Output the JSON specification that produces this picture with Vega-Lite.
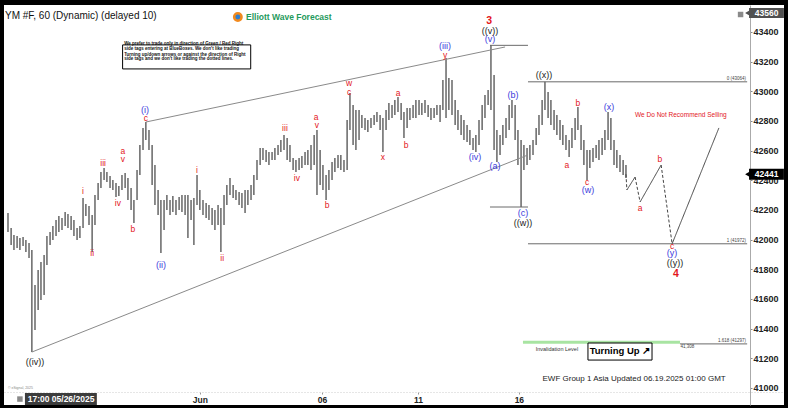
{
  "$schema": "https://vega.github.io/schema/vega-lite/v6.json",
  "width": 780,
  "height": 400,
  "autosize": {"type": "none"},
  "padding": {"left": 4, "top": 5, "right": 4, "bottom": 3},
  "background": "#000000",
  "config": {"font": "Liberation Sans", "view": {"fill": "#ffffff", "stroke": null}},
  "datasets": {
    "bars": [
      {"t":0.00,"p":42051,"p2":42179},{"t":0.10,"p":41964,"p2":42078},{"t":0.19,"p":41930,"p2":42031},{"t":0.29,"p":41943,"p2":42024},
      {"t":0.38,"p":41930,"p2":42011},{"t":0.48,"p":41957,"p2":42018},{"t":0.57,"p":41916,"p2":41997},{"t":0.67,"p":41876,"p2":41977},
      {"t":0.76,"p":41242,"p2":41930},{"t":0.86,"p":41390,"p2":41694},{"t":0.96,"p":41525,"p2":41795},{"t":1.05,"p":41593,"p2":41849},
      {"t":1.15,"p":41626,"p2":41896},{"t":1.24,"p":41829,"p2":42024},{"t":1.34,"p":41964,"p2":42051},{"t":1.43,"p":41997,"p2":42092},
      {"t":1.53,"p":42024,"p2":42132},{"t":1.62,"p":42051,"p2":42159},{"t":1.72,"p":42065,"p2":42146},{"t":1.82,"p":42092,"p2":42186},
      {"t":1.91,"p":42078,"p2":42173},{"t":2.01,"p":42065,"p2":42159},{"t":2.10,"p":42024,"p2":42132},{"t":2.20,"p":41997,"p2":42078},
      {"t":2.29,"p":42011,"p2":42092},{"t":2.39,"p":42078,"p2":42280},{"t":2.48,"p":42159,"p2":42240},{"t":2.58,"p":42098,"p2":42227},
      {"t":2.68,"p":41916,"p2":42166},{"t":2.77,"p":42098,"p2":42301},{"t":2.87,"p":42267,"p2":42382},{"t":2.96,"p":42348,"p2":42456},
      {"t":3.06,"p":42402,"p2":42483},{"t":3.15,"p":42388,"p2":42456},{"t":3.25,"p":42348,"p2":42429},{"t":3.34,"p":42334,"p2":42402},
      {"t":3.44,"p":42287,"p2":42382},{"t":3.53,"p":42294,"p2":42361},{"t":3.63,"p":42334,"p2":42436},{"t":3.73,"p":42348,"p2":42449},
      {"t":3.82,"p":42267,"p2":42415},{"t":3.92,"p":42200,"p2":42348},{"t":4.01,"p":42112,"p2":42267},{"t":4.11,"p":42267,"p2":42469},
      {"t":4.20,"p":42436,"p2":42638},{"t":4.30,"p":42605,"p2":42753},{"t":4.39,"p":42672,"p2":42793},{"t":4.49,"p":42605,"p2":42739},
      {"t":4.59,"p":42368,"p2":42638},{"t":4.68,"p":42233,"p2":42503},{"t":4.78,"p":42166,"p2":42334},{"t":4.87,"p":41910,"p2":42267},
      {"t":4.97,"p":42065,"p2":42267},{"t":5.06,"p":42200,"p2":42301},{"t":5.16,"p":42166,"p2":42267},{"t":5.25,"p":42186,"p2":42294},
      {"t":5.35,"p":42166,"p2":42267},{"t":5.45,"p":42200,"p2":42287},{"t":5.54,"p":42186,"p2":42301},{"t":5.64,"p":42166,"p2":42301},
      {"t":5.73,"p":42011,"p2":42301},{"t":5.83,"p":42132,"p2":42267},{"t":5.92,"p":41964,"p2":42280},{"t":6.02,"p":42233,"p2":42436},
      {"t":6.11,"p":42200,"p2":42334},{"t":6.21,"p":42166,"p2":42267},{"t":6.31,"p":42146,"p2":42247},{"t":6.40,"p":42132,"p2":42233},
      {"t":6.50,"p":42098,"p2":42213},{"t":6.59,"p":42065,"p2":42200},{"t":6.69,"p":42098,"p2":42233},{"t":6.78,"p":41916,"p2":42213},
      {"t":6.88,"p":42098,"p2":42301},{"t":6.97,"p":42233,"p2":42368},{"t":7.07,"p":42301,"p2":42415},{"t":7.17,"p":42280,"p2":42368},
      {"t":7.26,"p":42267,"p2":42334},{"t":7.36,"p":42233,"p2":42321},{"t":7.45,"p":42213,"p2":42314},{"t":7.55,"p":42179,"p2":42334},
      {"t":7.64,"p":42233,"p2":42334},{"t":7.74,"p":42267,"p2":42368},{"t":7.83,"p":42301,"p2":42436},{"t":7.93,"p":42402,"p2":42537},
      {"t":8.03,"p":42503,"p2":42618},{"t":8.12,"p":42537,"p2":42618},{"t":8.22,"p":42523,"p2":42605},{"t":8.31,"p":42503,"p2":42591},
      {"t":8.41,"p":42537,"p2":42591},{"t":8.50,"p":42537,"p2":42618},{"t":8.60,"p":42571,"p2":42638},{"t":8.69,"p":42591,"p2":42672},
      {"t":8.79,"p":42605,"p2":42705},{"t":8.89,"p":42537,"p2":42685},{"t":8.98,"p":42523,"p2":42638},{"t":9.08,"p":42469,"p2":42550},
      {"t":9.17,"p":42456,"p2":42537},{"t":9.27,"p":42469,"p2":42550},{"t":9.36,"p":42483,"p2":42564},{"t":9.46,"p":42503,"p2":42591},
      {"t":9.55,"p":42503,"p2":42605},{"t":9.65,"p":42469,"p2":42638},{"t":9.75,"p":42503,"p2":42705},{"t":9.84,"p":42301,"p2":42739},
      {"t":9.94,"p":42368,"p2":42605},{"t":10.03,"p":42334,"p2":42503},{"t":10.13,"p":42267,"p2":42436},{"t":10.22,"p":42334,"p2":42469},
      {"t":10.32,"p":42402,"p2":42523},{"t":10.41,"p":42456,"p2":42550},{"t":10.51,"p":42483,"p2":42571},{"t":10.60,"p":42469,"p2":42571},
      {"t":10.70,"p":42456,"p2":42537},{"t":10.80,"p":42469,"p2":42806},{"t":10.89,"p":42739,"p2":42989},{"t":10.99,"p":42638,"p2":42907},
      {"t":11.08,"p":42605,"p2":42874},{"t":11.18,"p":42672,"p2":42874},{"t":11.27,"p":42753,"p2":42840},{"t":11.37,"p":42739,"p2":42820},
      {"t":11.46,"p":42726,"p2":42806},{"t":11.56,"p":42753,"p2":42820},{"t":11.66,"p":42773,"p2":42840},{"t":11.75,"p":42793,"p2":42861},
      {"t":11.85,"p":42739,"p2":42840},{"t":11.94,"p":42591,"p2":42820},{"t":12.04,"p":42739,"p2":42874},{"t":12.13,"p":42806,"p2":42921},
      {"t":12.23,"p":42820,"p2":42907},{"t":12.32,"p":42840,"p2":42941},{"t":12.42,"p":42861,"p2":42962},{"t":12.52,"p":42806,"p2":42921},
      {"t":12.61,"p":42685,"p2":42861},{"t":12.71,"p":42753,"p2":42887},{"t":12.80,"p":42806,"p2":42887},{"t":12.90,"p":42820,"p2":42907},
      {"t":12.99,"p":42820,"p2":42941},{"t":13.09,"p":42840,"p2":42941},{"t":13.18,"p":42840,"p2":42921},{"t":13.28,"p":42854,"p2":42941},
      {"t":13.38,"p":42827,"p2":42907},{"t":13.47,"p":42806,"p2":42887},{"t":13.57,"p":42820,"p2":42887},{"t":13.66,"p":42840,"p2":42907},
      {"t":13.76,"p":42793,"p2":42907},{"t":13.85,"p":42874,"p2":43077},{"t":13.95,"p":42820,"p2":43225},{"t":14.04,"p":42874,"p2":43090},
      {"t":14.14,"p":42840,"p2":43077},{"t":14.24,"p":42773,"p2":42941},{"t":14.33,"p":42739,"p2":42874},{"t":14.43,"p":42705,"p2":42840},
      {"t":14.52,"p":42672,"p2":42806},{"t":14.62,"p":42658,"p2":42773},{"t":14.71,"p":42638,"p2":42739},{"t":14.81,"p":42605,"p2":42685},
      {"t":14.90,"p":42591,"p2":42705},{"t":15.00,"p":42638,"p2":42806},{"t":15.10,"p":42739,"p2":42907},{"t":15.19,"p":42820,"p2":42975},
      {"t":15.29,"p":42907,"p2":43009},{"t":15.38,"p":42874,"p2":43312},{"t":15.48,"p":42605,"p2":43110},{"t":15.57,"p":42523,"p2":42739},
      {"t":15.67,"p":42571,"p2":42705},{"t":15.76,"p":42638,"p2":42773},{"t":15.86,"p":42685,"p2":42820},{"t":15.96,"p":42739,"p2":42907},
      {"t":16.05,"p":42820,"p2":42941},{"t":16.15,"p":42672,"p2":42907},{"t":16.24,"p":42503,"p2":42739},{"t":16.34,"p":42220,"p2":42672},
      {"t":16.43,"p":42469,"p2":42638},{"t":16.53,"p":42503,"p2":42618},{"t":16.62,"p":42537,"p2":42638},{"t":16.72,"p":42571,"p2":42672},
      {"t":16.82,"p":42638,"p2":42753},{"t":16.91,"p":42705,"p2":42840},{"t":17.01,"p":42773,"p2":42941},{"t":17.10,"p":42874,"p2":43064},
      {"t":17.20,"p":42820,"p2":42996},{"t":17.29,"p":42773,"p2":42941},{"t":17.39,"p":42739,"p2":42874},{"t":17.48,"p":42705,"p2":42840},
      {"t":17.58,"p":42672,"p2":42806},{"t":17.67,"p":42638,"p2":42773},{"t":17.77,"p":42605,"p2":42705},{"t":17.87,"p":42557,"p2":42672},
      {"t":17.96,"p":42618,"p2":42753},{"t":18.06,"p":42672,"p2":42820},{"t":18.15,"p":42739,"p2":42894},{"t":18.25,"p":42605,"p2":42773},
      {"t":18.34,"p":42503,"p2":42672},{"t":18.44,"p":42402,"p2":42605},{"t":18.53,"p":42483,"p2":42605},{"t":18.63,"p":42523,"p2":42618},
      {"t":18.73,"p":42550,"p2":42638},{"t":18.82,"p":42537,"p2":42672},{"t":18.92,"p":42571,"p2":42685},{"t":19.01,"p":42605,"p2":42739},
      {"t":19.11,"p":42672,"p2":42861},{"t":19.20,"p":42605,"p2":42820},{"t":19.30,"p":42503,"p2":42672},{"t":19.39,"p":42483,"p2":42605},
      {"t":19.49,"p":42456,"p2":42571},{"t":19.59,"p":42436,"p2":42537},{"t":19.68,"p":42415,"p2":42503}
    ],
    "lines": [
      {"id":"wu","g":"wedge","t":4.39,"p":42793},{"id":"wu","g":"wedge","t":15.83,"p":43299},
      {"id":"wl","g":"wedge","t":0.76,"p":41242},{"id":"wl","g":"wedge","t":16.56,"p":42571},
      {"id":"h1","g":"level","t":15.35,"p":43310},{"id":"h1","g":"level","t":16.56,"p":43310},
      {"id":"h2","g":"level","t":15.35,"p":42220},{"id":"h2","g":"level","t":16.56,"p":42220},
      {"id":"h3","g":"level","t":16.56,"p":43064},{"id":"h3","g":"level","t":23.54,"p":43064},
      {"id":"h4","g":"level","t":16.56,"p":41972},{"id":"h4","g":"level","t":23.54,"p":41972},
      {"id":"h5","g":"level","t":21.40,"p":41297},{"id":"h5","g":"level","t":23.54,"p":41297},
      {"id":"inv","g":"invalid","t":16.40,"p":41308},{"id":"inv","g":"invalid","t":21.40,"p":41308},
      {"id":"s1","g":"proj","s":"dash","t":19.68,"p":42441},{"id":"s1","g":"proj","s":"dash","t":19.71,"p":42335},
      {"id":"s2","g":"proj","s":"solid","t":19.71,"p":42335},{"id":"s2","g":"proj","s":"solid","t":19.97,"p":42422},
      {"id":"s3","g":"proj","s":"dash","t":19.97,"p":42422},{"id":"s3","g":"proj","s":"dash","t":20.13,"p":42254},
      {"id":"s4","g":"proj","s":"solid","t":20.13,"p":42254},{"id":"s4","g":"proj","s":"solid","t":20.80,"p":42503},
      {"id":"s5","g":"proj","s":"dash","t":20.80,"p":42503},{"id":"s5","g":"proj","s":"dash","t":21.15,"p":41972},
      {"id":"s6","g":"proj","s":"solid","t":21.15,"p":41972},{"id":"s6","g":"proj","s":"solid","t":22.64,"p":42753}
    ],
    "boxes": [
      {"g":"note","t":3.65,"t2":7.73,"p":43151,"p2":43313},
      {"g":"note","t":18.47,"t2":20.51,"p":41188,"p2":41303},
      {"g":"price","t":23.60,"t2":24.71,"p":43494,"p2":43562},
      {"g":"last","t":23.60,"t2":24.71,"p":42404,"p2":42478},
      {"g":"date","t":0.54,"t2":2.83,"p":40885,"p2":40966}
    ],
    "points": [
      {"g":"logoicon","t":7.32,"p":43501},
      {"g":"icon","t":23.33,"p":43518},
      {"g":"icon","t":0.38,"p":40925},
      {"g":"price","t":23.55,"p":43528},
      {"g":"last","t":23.55,"p":42441}
    ],
    "labels": [
      {"g":"minor","t":2.68,"p":41910,"txt":"ii"},
      {"g":"minor","t":2.39,"p":42328,"txt":"i"},
      {"g":"minor","t":3.03,"p":42517,"txt":"iii"},
      {"g":"minor","t":3.50,"p":42247,"txt":"iv"},
      {"g":"minor","t":3.66,"p":42598,"txt":"a"},
      {"g":"minor","t":3.66,"p":42544,"txt":"v"},
      {"g":"minor","t":3.98,"p":42072,"txt":"b"},
      {"g":"minor","t":4.39,"p":42820,"txt":"c"},
      {"g":"minor","t":6.02,"p":42470,"txt":"i"},
      {"g":"minor","t":6.82,"p":41876,"txt":"ii"},
      {"g":"minor","t":8.82,"p":42753,"txt":"iii"},
      {"g":"minor","t":9.20,"p":42416,"txt":"iv"},
      {"g":"minor","t":9.81,"p":42827,"txt":"a"},
      {"g":"minor","t":9.84,"p":42773,"txt":"v"},
      {"g":"minor","t":10.16,"p":42233,"txt":"b"},
      {"g":"minor","t":10.86,"p":43056,"txt":"w"},
      {"g":"minor","t":10.86,"p":42996,"txt":"c"},
      {"g":"minor","t":11.94,"p":42557,"txt":"x"},
      {"g":"minor","t":12.42,"p":42989,"txt":"a"},
      {"g":"minor","t":12.68,"p":42638,"txt":"b"},
      {"g":"minor","t":13.92,"p":43245,"txt":"y"},
      {"g":"minor","t":17.80,"p":42503,"txt":"a"},
      {"g":"minor","t":18.15,"p":42921,"txt":"b"},
      {"g":"minor","t":18.44,"p":42389,"txt":"c"},
      {"g":"minor","t":20.13,"p":42213,"txt":"a"},
      {"g":"minor","t":20.76,"p":42544,"txt":"b"},
      {"g":"minor","t":21.15,"p":41957,"txt":"c"},
      {"g":"inter","t":4.36,"p":42874,"txt":"(i)"},
      {"g":"inter","t":4.87,"p":41829,"txt":"(ii)"},
      {"g":"inter","t":13.92,"p":43306,"txt":"(iii)"},
      {"g":"inter","t":14.87,"p":42557,"txt":"(iv)"},
      {"g":"inter","t":15.35,"p":43353,"txt":"(v)"},
      {"g":"inter","t":15.51,"p":42497,"txt":"(a)"},
      {"g":"inter","t":16.08,"p":42975,"txt":"(b)"},
      {"g":"inter","t":16.40,"p":42180,"txt":"(c)"},
      {"g":"inter","t":18.47,"p":42335,"txt":"(w)"},
      {"g":"inter","t":19.14,"p":42894,"txt":"(x)"},
      {"g":"inter","t":21.15,"p":41910,"txt":"(y)"},
      {"g":"primary","t":0.86,"p":41175,"txt":"((iv))"},
      {"g":"primary","t":15.35,"p":43407,"txt":"((v))"},
      {"g":"primary","t":16.40,"p":42112,"txt":"((w))"},
      {"g":"primary","t":17.07,"p":43110,"txt":"((x))"},
      {"g":"primary","t":21.24,"p":41843,"txt":"((y))"},
      {"g":"cycle","t":15.32,"p":43474,"txt":"3"},
      {"g":"cycle","t":21.27,"p":41768,"txt":"4"}
    ],
    "notes": [
      {"g":"title","t":-0.096,"p":43508,"txt":"YM #F, 60 (Dynamic) (delayed 10)"},
      {"g":"logo","t":7.58,"p":43501,"txt":"Elliott Wave Forecast"},
      {"g":"disc","t":3.70,"p":43316,"txt":"We prefer to trade only in direction of Green / Red Right"},
      {"g":"disc","t":3.70,"p":43282,"txt":"side tags entering at BlueBoxes. We don't like trading"},
      {"g":"disc","t":3.70,"p":43248,"txt":"Turning up/down arrows or against the direction of Right"},
      {"g":"disc","t":3.70,"p":43215,"txt":"side tags and we don't like trading the dotted lines."},
      {"g":"sell","t":21.43,"p":42841,"txt":"We Do Not Recommend Selling"},
      {"g":"ewf","t":19.94,"p":41060,"txt":"EWF Group 1 Asia Updated 06.19.2025 01:00 GMT"},
      {"g":"fib","t":23.50,"p":43064,"txt":"0 (43064)"},
      {"g":"fib","t":23.50,"p":41972,"txt":"1 (41972)"},
      {"g":"fib","t":23.50,"p":41297,"txt":"1.618 (41297)"},
      {"g":"fibleft","t":21.42,"p":41308,"txt":"41,308"},
      {"g":"inv","t":17.48,"p":41263,"txt":"Invalidation Level"},
      {"g":"turn","t":19.49,"p":41246,"txt":"Turning Up ↗"},
      {"g":"tag","t":24.16,"p":43528,"txt":"43560"},
      {"g":"tag","t":24.16,"p":42441,"txt":"42441"},
      {"g":"tag","t":1.69,"p":40925,"txt":"17:00 05/26/2025"},
      {"g":"copy","t":0.0,"p":41000,"txt":"© eSignal, 2025"}
    ]
  },
  "encoding": {
    "x": {
      "field": "t", "type": "quantitative", "title": null,
      "scale": {"domain": [-0.127, 24.713], "nice": false, "zero": false},
      "axis": {
        "orient": "bottom", "offset": -13, "values": [6.11, 10.0, 13.06, 16.27],
        "labelExpr": "datum.value < 8 ? 'Jun' : datum.value < 11.5 ? '06' : datum.value < 14.5 ? '11' : '16'",
        "grid": false, "domainColor": "#cccccc", "domainDash": [1, 2], "tickColor": "#999999", "tickSize": 2,
        "labelPadding": 1, "labelFontSize": 8.5, "labelFontWeight": "bold", "labelColor": "#222222",
        "labelFlush": false, "labelOverlap": false
      }
    },
    "y": {
      "field": "p", "type": "quantitative", "title": null,
      "scale": {"domain": [40885, 43582], "nice": false, "zero": false},
      "axis": {
        "orient": "right", "offset": -34,
        "values": [41000, 41200, 41400, 41600, 41800, 42000, 42200, 42400, 42600, 42800, 43000, 43200, 43400],
        "format": "d", "grid": false, "domainColor": "#aaaaaa", "tickColor": "#888888", "tickSize": 2,
        "labelPadding": 1, "labelFontSize": 9, "labelFontWeight": "bold", "labelColor": "#222222",
        "labelFlush": false, "labelOverlap": false
      }
    }
  },
  "layer": [
    {"data": {"name": "lines"}, "transform": [{"filter": "datum.g == 'invalid'"}],
     "mark": {"type": "line", "color": "#a8e4a2", "strokeWidth": 3},
     "encoding": {"detail": {"field": "id"}}},
    {"data": {"name": "bars"},
     "mark": {"type": "rule", "color": "#707070", "strokeWidth": 1.6},
     "encoding": {"y2": {"field": "p2"}}},
    {"data": {"name": "lines"}, "transform": [{"filter": "datum.g == 'wedge'"}],
     "mark": {"type": "line", "color": "#8a8a8a", "strokeWidth": 1},
     "encoding": {"detail": {"field": "id"}}},
    {"data": {"name": "lines"}, "transform": [{"filter": "datum.g == 'level'"}],
     "mark": {"type": "line", "color": "#6a6a6a", "strokeWidth": 1},
     "encoding": {"detail": {"field": "id"}}},
    {"data": {"name": "lines"}, "transform": [{"filter": "datum.g == 'proj'"}],
     "mark": {"type": "line", "color": "#444444", "strokeWidth": 1},
     "encoding": {
       "detail": {"field": "id"},
       "strokeDash": {"field": "s", "type": "nominal", "scale": {"domain": ["solid", "dash"], "range": [[1, 0], [3, 2]]}, "legend": null}
     }},
    {"data": {"name": "boxes"}, "transform": [{"filter": "datum.g == 'note'"}],
     "mark": {"type": "rect", "fill": "#ffffff", "stroke": "#000000", "strokeWidth": 1},
     "encoding": {"x2": {"field": "t2"}, "y2": {"field": "p2"}}},
    {"data": {"name": "boxes"}, "transform": [{"filter": "datum.g != 'note'"}],
     "mark": {"type": "rect"},
     "encoding": {"x2": {"field": "t2"}, "y2": {"field": "p2"},
       "fill": {"field": "g", "type": "nominal", "scale": {"domain": ["price", "last", "date"], "range": ["#505050", "#000000", "#3c3c3c"]}, "legend": null}}},
    {"data": {"name": "points"}, "transform": [{"filter": "datum.g == 'price' || datum.g == 'last'"}],
     "mark": {"type": "point", "shape": "triangle-left", "filled": true, "size": 30, "opacity": 1},
     "encoding": {"fill": {"field": "g", "type": "nominal", "scale": {"domain": ["price", "last", "date"], "range": ["#505050", "#000000", "#3c3c3c"]}, "legend": null}}},
    {"data": {"name": "points"}, "transform": [{"filter": "datum.g == 'icon'"}],
     "mark": {"type": "square", "color": "#8a8a8a", "size": 30, "opacity": 1}},
    {"data": {"name": "points"}, "transform": [{"filter": "datum.g == 'logoicon'"}],
     "mark": {"type": "circle", "fill": "#2f7fd0", "stroke": "#f28a1e", "strokeWidth": 2.5, "size": 55, "opacity": 1}},
    {"data": {"name": "labels"}, "transform": [{"filter": "datum.g == 'minor'"}],
     "mark": {"type": "text", "color": "#e3161c", "fontSize": 8.5, "align": "center", "baseline": "middle"},
     "encoding": {"text": {"field": "txt"}}},
    {"data": {"name": "labels"}, "transform": [{"filter": "datum.g == 'inter'"}],
     "mark": {"type": "text", "color": "#3b3bdc", "fontSize": 9, "align": "center", "baseline": "middle"},
     "encoding": {"text": {"field": "txt"}}},
    {"data": {"name": "labels"}, "transform": [{"filter": "datum.g == 'primary'"}],
     "mark": {"type": "text", "color": "#1a1a1a", "fontSize": 9, "align": "center", "baseline": "middle"},
     "encoding": {"text": {"field": "txt"}}},
    {"data": {"name": "labels"}, "transform": [{"filter": "datum.g == 'cycle'"}],
     "mark": {"type": "text", "color": "#e3161c", "fontSize": 10.5, "fontWeight": "bold", "align": "center", "baseline": "middle"},
     "encoding": {"text": {"field": "txt"}}},
    {"data": {"name": "notes"}, "transform": [{"filter": "datum.g == 'title'"}],
     "mark": {"type": "text", "color": "#111111", "fontSize": 10, "align": "left", "baseline": "middle"},
     "encoding": {"text": {"field": "txt"}}},
    {"data": {"name": "notes"}, "transform": [{"filter": "datum.g == 'logo'"}],
     "mark": {"type": "text", "color": "#1f9a5c", "fontSize": 8.5, "fontWeight": "bold", "align": "left", "baseline": "middle"},
     "encoding": {"text": {"field": "txt"}}},
    {"data": {"name": "notes"}, "transform": [{"filter": "datum.g == 'disc'"}],
     "mark": {"type": "text", "color": "#111111", "fontSize": 4.5, "fontWeight": "bold", "align": "left", "baseline": "middle"},
     "encoding": {"text": {"field": "txt"}}},
    {"data": {"name": "notes"}, "transform": [{"filter": "datum.g == 'sell'"}],
     "mark": {"type": "text", "color": "#e3161c", "fontSize": 6.5, "align": "center", "baseline": "middle"},
     "encoding": {"text": {"field": "txt"}}},
    {"data": {"name": "notes"}, "transform": [{"filter": "datum.g == 'ewf'"}],
     "mark": {"type": "text", "color": "#222222", "fontSize": 8, "align": "center", "baseline": "middle"},
     "encoding": {"text": {"field": "txt"}}},
    {"data": {"name": "notes"}, "transform": [{"filter": "datum.g == 'fib'"}],
     "mark": {"type": "text", "color": "#444444", "fontSize": 4.5, "align": "right", "baseline": "bottom", "dy": -1},
     "encoding": {"text": {"field": "txt"}}},
    {"data": {"name": "notes"}, "transform": [{"filter": "datum.g == 'fibleft'"}],
     "mark": {"type": "text", "color": "#444444", "fontSize": 4.5, "align": "left", "baseline": "top", "dy": 2},
     "encoding": {"text": {"field": "txt"}}},
    {"data": {"name": "notes"}, "transform": [{"filter": "datum.g == 'inv'"}],
     "mark": {"type": "text", "color": "#333333", "fontSize": 5.5, "align": "center", "baseline": "middle"},
     "encoding": {"text": {"field": "txt"}}},
    {"data": {"name": "notes"}, "transform": [{"filter": "datum.g == 'turn'"}],
     "mark": {"type": "text", "color": "#000000", "fontSize": 9.5, "fontWeight": "bold", "align": "center", "baseline": "middle"},
     "encoding": {"text": {"field": "txt"}}},
    {"data": {"name": "notes"}, "transform": [{"filter": "datum.g == 'tag'"}],
     "mark": {"type": "text", "color": "#ffffff", "fontSize": 8.5, "fontWeight": "bold", "align": "center", "baseline": "middle"},
     "encoding": {"text": {"field": "txt"}}},
    {"data": {"name": "notes"}, "transform": [{"filter": "datum.g == 'copy'"}],
     "mark": {"type": "text", "color": "#888888", "fontSize": 3.5, "align": "left", "baseline": "middle"},
     "encoding": {"text": {"field": "txt"}}}
  ]
}
